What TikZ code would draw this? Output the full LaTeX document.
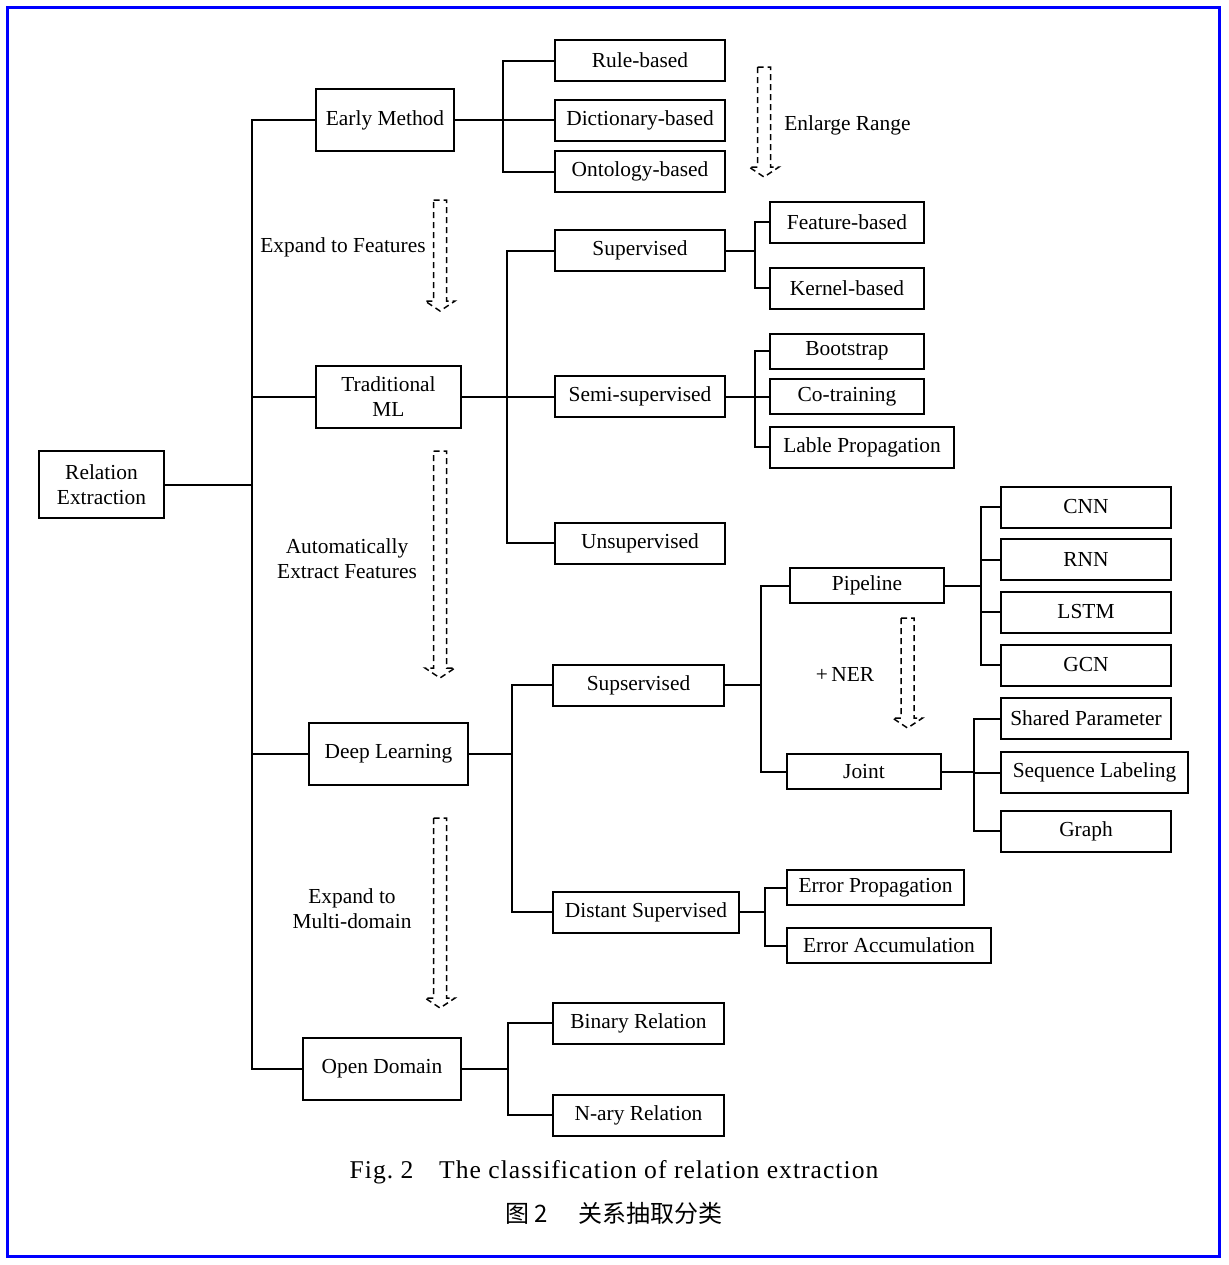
\documentclass[tikz,border=0pt]{standalone}
\usepackage{fontspec}
\setmainfont{Liberation Serif}
\newfontfamily\cjk{Noto Sans CJK SC}

\tikzset{
  box/.style={draw, line width=1pt, inner sep=1pt, minimum width=85pt, minimum height=20.5pt, align=center},
  topbox/.style={box, minimum height=31pt},
  leaf/.style={box, minimum width=77pt},
  link/.style={line width=1pt},
  hint/.style={align=center, inner sep=0pt},
}

% hollow dashed arrow: x, top, tip
\newcommand{\flowarrow}[3]{%
  \draw[line width=0.75pt, dash pattern=on 3pt off 2pt]
    (#1-6.5,#2) -- (#1+6.5,#2) -- (#1+6.5,#3-10) -- (#1+15,#3-10) -- (#1,#3)
    -- (#1-15,#3-10) -- (#1-6.5,#3-10) -- cycle;}

\begin{document}
\begin{tikzpicture}[x=0.5pt, y=-0.5pt, font=\fontsize{10.7}{12.5}\selectfont]
  \useasboundingbox (0,0) rectangle (1228,1265);
  \draw[blue, line width=1.6pt] (7.5,7.5) rectangle (1219.5,1256.5);

  % root and first level
  \node[topbox, minimum width=62.5pt, minimum height=33.5pt] (rel) at (101.5,484.5) {Relation\\Extraction};
  \node[topbox, minimum width=69pt] (early) at (385,120) {Early Method};
  \node[topbox, minimum width=72.5pt] (trad) at (388.5,397) {Traditional\\ML};
  \node[topbox, minimum width=79.5pt] (deep) at (388.5,754) {Deep Learning};
  \node[topbox, minimum width=79pt] (open) at (382,1069) {Open Domain};

  \coordinate (trunk) at (252,484.5);
  \draw[link] (rel.east) -- (trunk);
  \draw[link] (early.west) -| (trunk);
  \draw[link] (trad.west) -| (trunk);
  \draw[link] (deep.west) -| (trunk);
  \draw[link] (open.west) -| (trunk);

  % early methods
  \node[box] (rule) at (640,60.5) {Rule-based};
  \node[box] (dict) at (640,120) {Dictionary-based};
  \node[box] (onto) at (640,171.5) {Ontology-based};
  \coordinate (bEarly) at (503,120);
  \draw[link] (early.east) -- (bEarly);
  \draw[link] (rule.west) -| (bEarly);
  \draw[link] (dict.west) -- (bEarly);
  \draw[link] (onto.west) -| (bEarly);

  % traditional ML
  \node[box] (sup) at (640,250.5) {Supervised};
  \node[box] (semi) at (640,396.5) {Semi-supervised};
  \node[box] (unsup) at (640,543) {Unsupervised};
  \coordinate (bTrad) at (507,397);
  \draw[link] (trad.east) -- (bTrad);
  \draw[link] (sup.west) -| (bTrad);
  \draw[link] (semi.west) -| (bTrad);
  \draw[link] (unsup.west) -| (bTrad);

  \node[leaf] (feat) at (847,222) {Feature-based};
  \node[leaf] (kern) at (847,288) {Kernel-based};
  \coordinate (bSup) at (755,250.5);
  \draw[link] (sup.east) -- (bSup);
  \draw[link] (feat.west) -| (bSup);
  \draw[link] (kern.west) -| (bSup);

  \node[leaf, minimum height=17.5pt] (boot) at (847,351) {Bootstrap};
  \node[leaf, minimum height=17.5pt] (cotr) at (847,396.5) {Co-training};
  \node[leaf, minimum width=92pt] (lable) at (862,447) {Lable Propagation};
  \coordinate (bSemi) at (755,396.5);
  \draw[link] (semi.east) -- (bSemi);
  \draw[link] (boot.west) -| (bSemi);
  \draw[link] (cotr.west) -- (bSemi);
  \draw[link] (lable.west) -| (bSemi);

  % deep learning
  \node[box, minimum width=85.5pt] (dsup) at (638.5,685) {Supservised};
  \node[box, minimum width=93pt] (dist) at (646,912) {Distant Supervised};
  \coordinate (bDeep) at (512,754);
  \draw[link] (deep.east) -- (bDeep);
  \draw[link] (dsup.west) -| (bDeep);
  \draw[link] (dist.west) -| (bDeep);

  \node[leaf, minimum height=17.5pt] (pipe) at (867,585.5) {Pipeline};
  \node[leaf, minimum height=17.5pt] (joint) at (864,771.5) {Joint};
  \coordinate (bDsup) at (761,685);
  \draw[link] (dsup.east) -- (bDsup);
  \draw[link] (pipe.west) -| (bDsup);
  \draw[link] (joint.west) -| (bDsup);

  \node[box] (cnn) at (1086,507) {CNN};
  \node[box] (rnn) at (1086,559.5) {RNN};
  \node[box] (lstm) at (1086,612) {LSTM};
  \node[box] (gcn) at (1086,665) {GCN};
  \coordinate (bPipe) at (981,585.5);
  \draw[link] (pipe.east) -- (bPipe);
  \foreach \n in {cnn,rnn,lstm,gcn}
    \draw[link] (\n.west) -| (bPipe);

  \node[box] (shared) at (1086,718.5) {Shared Parameter};
  \node[box, minimum width=93.5pt] (seq) at (1094.5,772.5) {Sequence Labeling};
  \node[box] (graph) at (1086,831) {Graph};
  \coordinate (bJoint) at (974,771.5);
  \draw[link] (joint.east) -- (bJoint);
  \foreach \n in {shared,seq,graph}
    \draw[link] (\n.west) -| (bJoint);

  \node[box, minimum width=88.5pt, minimum height=17.5pt] (eprop) at (875.5,887.5) {Error Propagation};
  \node[box, minimum width=102pt, minimum height=17.5pt] (eacc) at (889,945.5) {Error Accumulation};
  \coordinate (bDist) at (765,912);
  \draw[link] (dist.east) -- (bDist);
  \draw[link] (eprop.west) -| (bDist);
  \draw[link] (eacc.west) -| (bDist);

  % open domain
  \node[box, minimum width=85.5pt] (bin) at (638.5,1023) {Binary Relation};
  \node[box, minimum width=85.5pt] (nary) at (638.5,1115) {N-ary Relation};
  \coordinate (bOpen) at (508,1069);
  \draw[link] (open.east) -- (bOpen);
  \draw[link] (bin.west) -| (bOpen);
  \draw[link] (nary.west) -| (bOpen);

  % hints between levels
  \flowarrow{764}{67}{177}
  \node[hint, anchor=west] (enlarge) at (784,125) {Enlarge Range};
  \flowarrow{440}{200}{311}
  \node[hint] (tofeat) at (343,247) {Expand to Features};
  \flowarrow{440}{451}{678}
  \node[hint] (auto) at (347,559) {Automatically\\Extract Features};
  \flowarrow{440}{818}{1008}
  \node[hint] (multi) at (352,909) {Expand to\\Multi-domain};
  \flowarrow{907.5}{618}{728}
  \node[hint] (ner) at (845,674) {+\,NER};

  % caption
  \node (capen) at (614,1172) {\addfontfeature{LetterSpace=4}\fontsize{12.8}{15}\selectfont Fig.~2\quad The classification of relation extraction};
  \node (capzh) at (614,1213) {\cjk\fontsize{12}{14}\selectfont 图~2\hspace{1.3em}关系抽取分类};
\end{tikzpicture}
\end{document}
